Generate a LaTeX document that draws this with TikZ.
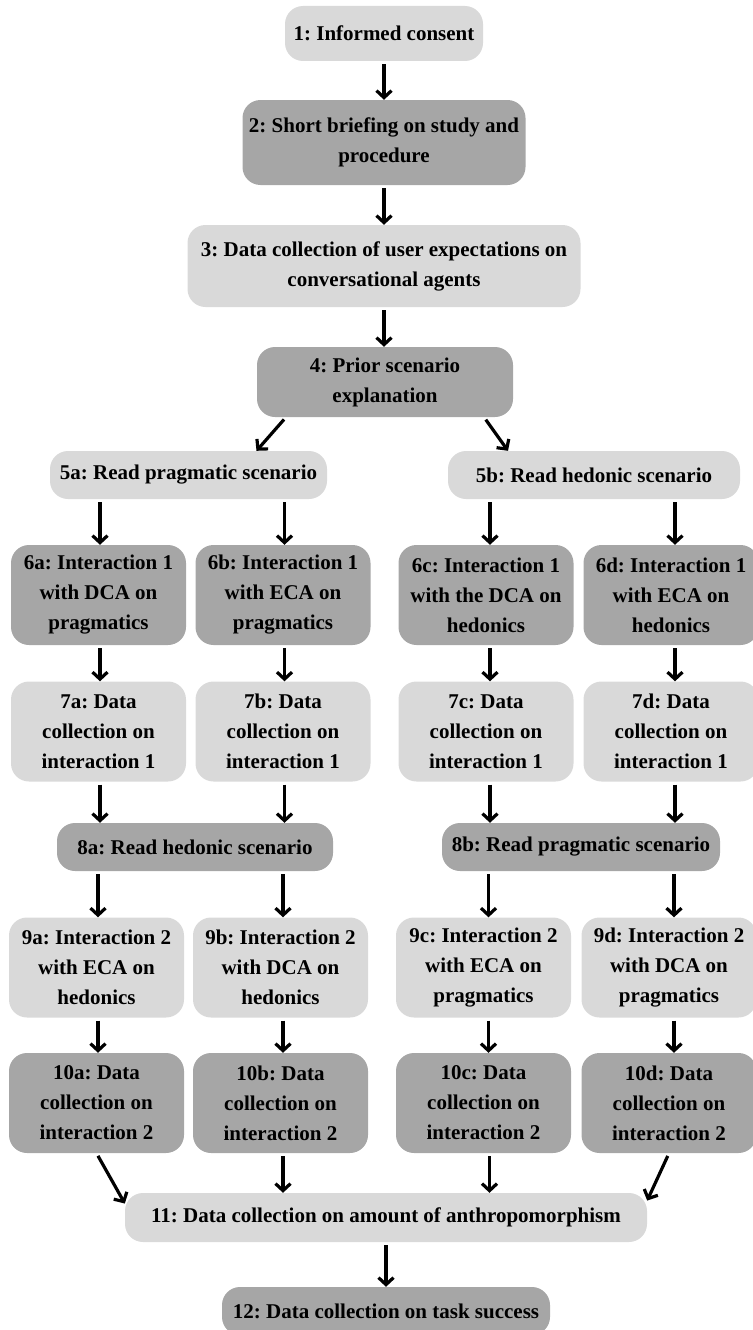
\documentclass[tikz,border=0pt]{standalone}
\usepackage{fontspec}
\setmainfont{Liberation Serif}
\usetikzlibrary{arrows.meta,calc}
\definecolor{lightbox}{HTML}{D9D9D9}
\definecolor{darkbox}{HTML}{A6A6A6}
\begin{document}
\frenchspacing
\begin{tikzpicture}[x=1pt,y=-1pt,
  box/.style={rounded corners=18pt, align=center, inner sep=0pt, text=black,
    font=\fontsize{21pt}{30pt}\selectfont\bfseries\frenchspacing},
  lbox/.style={box, fill=lightbox},
  dbox/.style={box, fill=darkbox},
  col/.style={minimum width=175pt, minimum height=100pt},
  arr/.style={-{Straight Barb[length=7pt,width=15pt]}, line width=3.2pt, shorten <=3pt}
]
\useasboundingbox (0,0) rectangle (752,1330);

\node[lbox, minimum width=198pt, minimum height=55pt] (n1) at (384,33.5) {1: Informed consent};
\node[dbox, minimum width=283pt, minimum height=85pt] (n2) at (384,142.5) {2: Short briefing on study and\\procedure};
\node[lbox, minimum width=393pt, minimum height=82pt] (n3) at (384,266) {3: Data collection of user expectations on\\conversational agents};
\node[dbox, minimum width=256pt, minimum height=70pt] (n4) at (385,382) {4: Prior scenario\\explanation};
\node[lbox, minimum width=277pt, minimum height=48pt] (n5a) at (188.5,475) {5a: Read pragmatic scenario};
\node[lbox, minimum width=292pt, minimum height=48pt] (n5b) at (594,475) {5b: Read hedonic scenario};

\node[dbox, col] (n6a) at (98.5,595) {6a: Interaction 1\\with DCA on\\pragmatics};
\node[dbox, col] (n6b) at (283,595) {6b: Interaction 1\\with ECA on\\pragmatics};
\node[dbox, col] (n6c) at (486,595) {6c: Interaction 1\\with the DCA on\\hedonics};
\node[dbox, col] (n6d) at (671,595) {6d: Interaction 1\\with ECA on\\hedonics};

\node[lbox, col] (n7a) at (98.5,731.5) {7a: Data\\collection on\\interaction 1};
\node[lbox, col] (n7b) at (283,731.5) {7b: Data\\collection on\\interaction 1};
\node[lbox, col] (n7c) at (486,731.5) {7c: Data\\collection on\\interaction 1};
\node[lbox, col] (n7d) at (671,731.5) {7d: Data\\collection on\\interaction 1};

\node[dbox, minimum width=276pt, minimum height=48pt] (n8a) at (195,847) {8a: Read hedonic scenario};
\node[dbox, minimum width=278pt, minimum height=48pt] (n8b) at (581,847) {8b: Read pragmatic scenario};

\node[lbox, col] (n9a) at (96.5,967.5) {9a: Interaction 2\\with ECA on\\hedonics};
\node[lbox, col] (n9b) at (280.5,967.5) {9b: Interaction 2\\with DCA on\\hedonics};
\node[lbox, col] (n9c) at (483.5,967.5) {9c: Interaction 2\\with ECA on\\pragmatics};
\node[lbox, col] (n9d) at (669,967.5) {9d: Interaction 2\\with DCA on\\pragmatics};

\node[dbox, col] (n10a) at (96.5,1103) {10a: Data\\collection on\\interaction 2};
\node[dbox, col] (n10b) at (280.5,1103) {10b: Data\\collection on\\interaction 2};
\node[dbox, col] (n10c) at (483.5,1103) {10c: Data\\collection on\\interaction 2};
\node[dbox, col] (n10d) at (669,1103) {10d: Data\\collection on\\interaction 2};

\node[lbox, minimum width=522pt, minimum height=49pt] (n11) at (386,1217.5) {11: Data collection on amount of anthropomorphism};
\node[dbox, minimum width=328pt, minimum height=48pt] (n12) at (386,1311) {12: Data collection on task success};

% arrows
\draw[arr] (n1.south) -- (n1.south |- n2.north);
\draw[arr] (n2.south) -- (n2.south |- n3.north);
\draw[arr] (n3.south) -- (n3.south |- n4.north);
\draw[arr] ($(n4.south)+(-99,0)$) -- ($(n5a.north)+(68,0)$);
\draw[arr] ($(n4.south)+(99,0)$) -- ($(n5b.north)+(-86,0)$);

\draw[arr] ($(n5a.south -| n6a.north)+(1.5,0)$) -- ($(n6a.north)+(1.5,0)$);
\draw[arr] ($(n5a.south -| n6b.north)+(1.5,0)$) -- ($(n6b.north)+(1.5,0)$);
\draw[arr] ($(n5b.south -| n6c.north)+(4,0)$) -- ($(n6c.north)+(4,0)$);
\draw[arr] ($(n5b.south -| n6d.north)+(4,0)$) -- ($(n6d.north)+(4,0)$);

\draw[arr] ($(n6a.south)+(1.5,0)$) -- ($(n7a.north)+(1.5,0)$);
\draw[arr] ($(n6b.south)+(1.5,0)$) -- ($(n7b.north)+(1.5,0)$);
\draw[arr] ($(n6c.south)+(4,0)$) -- ($(n7c.north)+(4,0)$);
\draw[arr] ($(n6d.south)+(4,0)$) -- ($(n7d.north)+(4,0)$);

\draw[arr] ($(n7a.south)+(1.5,0)$) -- ($(n7a.south |- n8a.north)+(1.5,0)$);
\draw[arr] ($(n7b.south)+(1.5,0)$) -- ($(n7b.south |- n8a.north)+(1.5,0)$);
\draw[arr] ($(n7c.south)+(4,0)$) -- ($(n7c.south |- n8b.north)+(4,0)$);
\draw[arr] ($(n7d.south)+(4,0)$) -- ($(n7d.south |- n8b.north)+(4,0)$);

\draw[arr] ($(n8a.south -| n9a.north)+(1.5,0)$) -- ($(n9a.north)+(1.5,0)$);
\draw[arr] ($(n8a.south -| n9b.north)+(2.5,0)$) -- ($(n9b.north)+(2.5,0)$);
\draw[arr] ($(n8b.south -| n9c.north)+(5,0)$) -- ($(n9c.north)+(5,0)$);
\draw[arr] ($(n8b.south -| n9d.north)+(5,0)$) -- ($(n9d.north)+(5,0)$);

\draw[arr] ($(n9a.south)+(1.5,0)$) -- ($(n10a.north)+(1.5,0)$);
\draw[arr] ($(n9b.south)+(2.5,0)$) -- ($(n10b.north)+(2.5,0)$);
\draw[arr] ($(n9c.south)+(5,0)$) -- ($(n10c.north)+(5,0)$);
\draw[arr] ($(n9d.south)+(5,0)$) -- ($(n10d.north)+(5,0)$);

\draw[arr] (n10a.south) -- ($(n11.west)+(0,-14)$);
\draw[arr] ($(n10b.south)+(2.5,0)$) -- ($(n10b.south |- n11.north)+(2.5,0)$);
\draw[arr] ($(n10c.south)+(6,0)$) -- ($(n10c.south |- n11.north)+(6,0)$);
\draw[arr] (n10d.south) -- ($(n11.east)+(0,-17)$);
\draw[arr] (n11.south) -- (n12.north);
\end{tikzpicture}
\end{document}
